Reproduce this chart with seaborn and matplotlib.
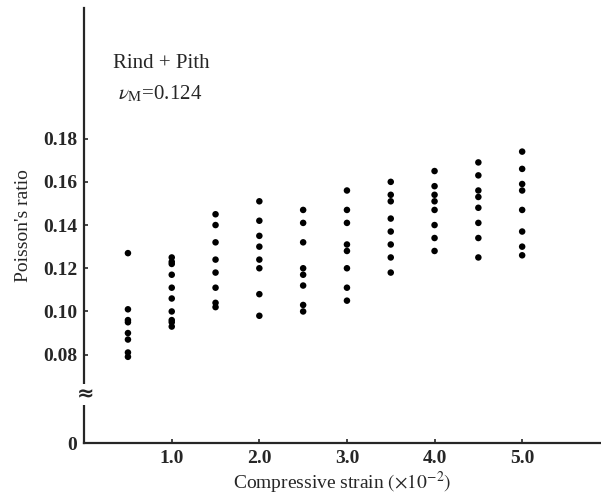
import seaborn as sns
import matplotlib.pyplot as plt
import pandas as pd

# compressive strain (x10^-2) and measured Poisson's ratio per strain level
strain_levels = [0.5, 1.0, 1.5, 2.0, 2.5, 3.0, 3.5, 4.0, 4.5, 5.0]
ratios = [
    [0.127, 0.101, 0.096, 0.095, 0.090, 0.087, 0.081, 0.079],
    [0.125, 0.123, 0.122, 0.117, 0.111, 0.106, 0.100, 0.096, 0.095, 0.093],
    [0.145, 0.140, 0.132, 0.124, 0.118, 0.111, 0.104, 0.102],
    [0.151, 0.142, 0.135, 0.130, 0.124, 0.120, 0.108, 0.098],
    [0.147, 0.141, 0.132, 0.120, 0.117, 0.112, 0.103, 0.100],
    [0.156, 0.147, 0.141, 0.131, 0.128, 0.120, 0.111, 0.105],
    [0.160, 0.154, 0.151, 0.143, 0.137, 0.131, 0.125, 0.118],
    [0.165, 0.158, 0.154, 0.151, 0.147, 0.140, 0.134, 0.128],
    [0.169, 0.163, 0.156, 0.153, 0.148, 0.141, 0.134, 0.125],
    [0.174, 0.166, 0.159, 0.156, 0.147, 0.137, 0.130, 0.126],
]
y_ticks = [0.08, 0.10, 0.12, 0.14, 0.16, 0.18]
x_ticks = [1.0, 2.0, 3.0, 4.0, 5.0]
axis_bottom = 0.039  # where the broken axis shows "0"

rows = []
for s, vals in zip(strain_levels, ratios):
    for v in vals:
        rows.append({"strain": s, "ratio": v})
df = pd.DataFrame(rows)

sns.set_style("ticks")
plt.rcParams["font.family"] = ["Liberation Serif", "DejaVu Serif"]
plt.rcParams["mathtext.fontset"] = "stix"

fig = plt.figure(figsize=(6.01, 4.98), dpi=100)
ax = fig.add_axes([0.14, 0.11, 0.86, 0.874])

sns.scatterplot(data=df, x="strain", y="ratio", ax=ax, color="black",
                s=22, edgecolor="none", legend=False)

ax.set_xlim(0, 5.9)
ax.set_ylim(axis_bottom, 0.2405)
ax.set_xticks(x_ticks)
ax.set_xticklabels([f"{t:.1f}" for t in x_ticks])
ax.set_yticks([axis_bottom] + y_ticks)
ax.set_yticklabels(["0"] + [f"{t:.2f}" for t in y_ticks])
ax.tick_params(direction="in", length=3, width=1.2, labelsize=14, pad=5)
for lab in ax.get_xticklabels() + ax.get_yticklabels():
    lab.set_fontweight("bold")

sns.despine(ax=ax)
ax.spines["left"].set_linewidth(1.6)
ax.spines["bottom"].set_linewidth(1.6)

# axis break mark
ax.text(0.02, 0.0615, "≈", transform=ax.transData, ha="center", va="center",
        fontsize=15, fontweight="bold", family="DejaVu Sans",
        bbox=dict(facecolor="white", edgecolor="none", pad=0.3))

ax.set_xlabel("Compressive strain $(\\times10^{-2})$", fontsize=14, labelpad=2)
ax.set_ylabel("Poisson's ratio", fontsize=14, labelpad=8)

ax.text(0.055, 0.862, "Rind + Pith", transform=ax.transAxes, fontsize=15)
ax.text(0.065, 0.79, "$\\nu_{\\rm M}$=0.124", transform=ax.transAxes, fontsize=15)

fig.savefig("out.png", dpi=100)
